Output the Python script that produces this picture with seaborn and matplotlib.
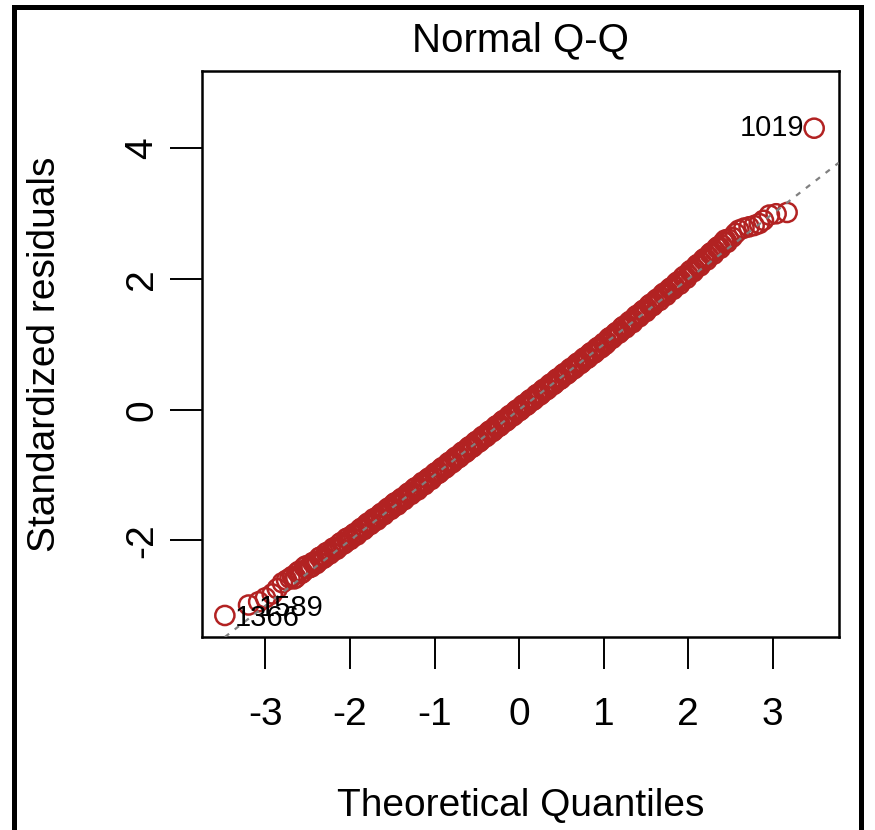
import matplotlib
matplotlib.use("Agg")
import matplotlib.pyplot as plt
import matplotlib.patches as mpatches
import seaborn as sns
import pandas as pd

# ---- data ----
lower_x = [-3.48, -3.20, -3.08, -3.00, -2.92, -2.86, -2.80, -2.75, -2.71]
lower_y = [-3.15, -2.99, -2.94, -2.88, -2.82, -2.74, -2.65, -2.61, -2.58]

mid_x = [-2.68, -2.64, -2.60, -2.56, -2.52, -2.48, -2.44, -2.40, -2.36, -2.32,
         -2.28, -2.24, -2.20, -2.16, -2.12, -2.08, -2.04, -2.00, -1.96, -1.92,
         -1.88, -1.84, -1.80, -1.76, -1.72, -1.68, -1.64, -1.60, -1.56, -1.52,
         -1.48, -1.44, -1.40, -1.36, -1.32, -1.28, -1.24, -1.20, -1.16, -1.12,
         -1.08, -1.04, -1.00, -0.96, -0.92, -0.88, -0.84, -0.80, -0.76, -0.72,
         -0.68, -0.64, -0.60, -0.56, -0.52, -0.48, -0.44, -0.40, -0.36, -0.32,
         -0.28, -0.24, -0.20, -0.16, -0.12, -0.08, -0.04, 0.00, 0.04, 0.08,
         0.12, 0.16, 0.20, 0.24, 0.28, 0.32, 0.36, 0.40, 0.44, 0.48,
         0.52, 0.56, 0.60, 0.64, 0.68, 0.72, 0.76, 0.80, 0.84, 0.88,
         0.92, 0.96, 1.00, 1.04, 1.08, 1.12, 1.16, 1.20, 1.24, 1.28,
         1.32, 1.36, 1.40, 1.44, 1.48, 1.52, 1.56, 1.60, 1.64, 1.68,
         1.72, 1.76, 1.80, 1.84, 1.88, 1.92, 1.96, 2.00, 2.04, 2.08,
         2.12, 2.16, 2.20, 2.24, 2.28, 2.32, 2.36, 2.40, 2.44, 2.48]
mid_y = [-2.55, -2.57, -2.47, -2.49, -2.39, -2.41, -2.34, -2.36, -2.26, -2.28,
         -2.19, -2.21, -2.12, -2.14, -2.05, -2.06, -1.97, -1.99, -1.91, -1.92,
         -1.83, -1.84, -1.75, -1.76, -1.67, -1.69, -1.60, -1.61, -1.52, -1.53,
         -1.44, -1.46, -1.37, -1.38, -1.29, -1.30, -1.21, -1.23, -1.14, -1.15,
         -1.06, -1.07, -0.98, -0.98, -0.90, -0.90, -0.82, -0.82, -0.74, -0.74,
         -0.66, -0.66, -0.58, -0.58, -0.50, -0.50, -0.42, -0.42, -0.34, -0.34,
         -0.26, -0.26, -0.18, -0.18, -0.10, -0.10, -0.02, -0.02, 0.06, 0.06,
         0.14, 0.14, 0.22, 0.22, 0.30, 0.30, 0.38, 0.38, 0.46, 0.46,
         0.54, 0.54, 0.62, 0.62, 0.70, 0.70, 0.78, 0.78, 0.86, 0.86,
         0.94, 0.94, 1.02, 1.03, 1.11, 1.12, 1.19, 1.20, 1.28, 1.29,
         1.36, 1.37, 1.45, 1.46, 1.53, 1.54, 1.62, 1.63, 1.70, 1.72,
         1.79, 1.80, 1.87, 1.89, 1.96, 1.97, 2.05, 2.06, 2.14, 2.15,
         2.23, 2.25, 2.32, 2.34, 2.41, 2.43, 2.50, 2.52, 2.60, 2.61]

mid2_x = [-2.66, -2.62, -2.58, -2.54, -2.50, -2.46, -2.42, -2.38, -2.34, -2.30,
          -2.26, -2.22, -2.18, -2.14, -2.10, -2.06, -2.02, -1.98, -1.94, -1.90,
          -1.86, -1.82, -1.78, -1.74, -1.70, -1.66, -1.62, -1.58, -1.54, -1.50,
          -1.46, -1.42, -1.38, -1.34, -1.30, -1.26, -1.22, -1.18, -1.14, -1.10,
          -1.06, -1.02, -0.98, -0.94, -0.90, -0.86, -0.82, -0.78, -0.74, -0.70,
          -0.66, -0.62, -0.58, -0.54, -0.50, -0.46, -0.42, -0.38, -0.34, -0.30,
          -0.26, -0.22, -0.18, -0.14, -0.10, -0.06, -0.02, 0.02, 0.06, 0.10,
          0.14, 0.18, 0.22, 0.26, 0.30, 0.34, 0.38, 0.42, 0.46, 0.50,
          0.54, 0.58, 0.62, 0.66, 0.70, 0.74, 0.78, 0.82, 0.86, 0.90,
          0.94, 0.98, 1.02, 1.06, 1.10, 1.14, 1.18, 1.22, 1.26, 1.30,
          1.34, 1.38, 1.42, 1.46, 1.50, 1.54, 1.58, 1.62, 1.66, 1.70,
          1.74, 1.78, 1.82, 1.86, 1.90, 1.94, 1.98, 2.02, 2.06, 2.10,
          2.14, 2.18, 2.22, 2.26, 2.30, 2.34, 2.38, 2.42, 2.46]
mid2_y = [-2.59, -2.49, -2.51, -2.41, -2.43, -2.41, -2.33, -2.33, -2.25, -2.26,
          -2.18, -2.18, -2.11, -2.11, -2.03, -2.04, -1.96, -1.96, -1.89, -1.88,
          -1.81, -1.81, -1.73, -1.73, -1.66, -1.65, -1.58, -1.57, -1.50, -1.50,
          -1.42, -1.42, -1.35, -1.34, -1.27, -1.27, -1.19, -1.19, -1.11, -1.11,
          -1.04, -1.03, -0.96, -0.96, -0.88, -0.88, -0.80, -0.80, -0.72, -0.72,
          -0.64, -0.64, -0.56, -0.56, -0.48, -0.48, -0.40, -0.40, -0.32, -0.32,
          -0.24, -0.24, -0.16, -0.16, -0.08, -0.08, 0.00, 0.00, 0.08, 0.08,
          0.16, 0.16, 0.24, 0.24, 0.32, 0.32, 0.40, 0.40, 0.48, 0.48,
          0.56, 0.56, 0.64, 0.64, 0.72, 0.72, 0.80, 0.80, 0.88, 0.88,
          0.96, 0.96, 1.00, 1.09, 1.09, 1.17, 1.17, 1.26, 1.25, 1.34,
          1.33, 1.43, 1.42, 1.51, 1.50, 1.60, 1.59, 1.68, 1.67, 1.77,
          1.75, 1.85, 1.84, 1.94, 1.92, 2.03, 2.01, 2.12, 2.11, 2.21,
          2.20, 2.30, 2.29, 2.39, 2.38, 2.48, 2.47, 2.57, 2.56]

upper_x = [2.52, 2.56, 2.60, 2.66, 2.72, 2.78, 2.84, 2.89, 2.96, 3.04, 3.17, 3.49]
upper_y = [2.64, 2.70, 2.75, 2.78, 2.80, 2.82, 2.85, 2.90, 2.98, 3.00, 3.02, 4.31]

id_labels = ["1366", "1589", "1019"]
id_x = [-3.48, -3.20, 3.49]
id_y = [-3.15, -2.99, 4.31]

qq_intercept = 0.0
qq_slope = 1.0

x_ticks = [-3, -2, -1, 0, 1, 2, 3]
y_ticks = [-2, 0, 2, 4]

title = "Normal Q-Q"
x_label = "Theoretical Quantiles"
y_label = "Standardized residuals"

df = pd.DataFrame({
    "theoretical": lower_x + mid_x + mid2_x + upper_x,
    "residual": lower_y + mid_y + mid2_y + upper_y,
})

# ---- drawing ----
sns.set_style("white")
plt.rcParams["font.family"] = ["Liberation Sans", "DejaVu Sans"]
plt.rcParams["text.color"] = "black"
plt.rcParams["axes.labelcolor"] = "black"
plt.rcParams["xtick.color"] = "black"
plt.rcParams["ytick.color"] = "black"

fig = plt.figure(figsize=(8.75, 8.3), dpi=100)
ax = fig.add_axes([0.2309, 0.2325, 0.7276, 0.6823])

red = "#B22222"
sns.scatterplot(data=df, x="theoretical", y="residual", ax=ax,
                marker="o", s=190, facecolor="none", edgecolor=red,
                linewidth=1.8, zorder=3)

ax.axline((0, qq_intercept), slope=qq_slope, color="#808080", lw=1.6,
          linestyle=(0, (2.4, 3.2)), zorder=4)

ax.set_xlim(-3.75, 3.78)
ax.set_ylim(-3.48, 5.19)
ax.set_xticks(x_ticks)
ax.set_xticklabels([str(t) for t in x_ticks])
ax.set_yticks(y_ticks)
ax.set_yticklabels([str(t) for t in y_ticks])

for sp in ax.spines.values():
    sp.set_visible(True)
    sp.set_color("black")
    sp.set_linewidth(1.8)

ax.tick_params(axis="both", direction="out", length=23, width=1.4,
               colors="black", labelcolor="black", labelsize=28,
               bottom=True, left=True)
ax.tick_params(axis="x", pad=20)
ax.tick_params(axis="y", pad=7)
for lab in ax.get_yticklabels():
    lab.set_rotation(90)
    lab.set_va("center")

ax.set_xlabel(x_label, fontsize=28, labelpad=40, color="black")
ax.set_ylabel(y_label, fontsize=28, labelpad=44, color="black")
ax.set_title(title, fontsize=29, pad=14, color="black")

for lab, xv, yv in zip(id_labels, id_x, id_y):
    if xv < 0:
        ax.annotate(lab, (xv, yv), xytext=(7, -2), textcoords="offset points",
                    ha="left", va="center", fontsize=21, color="black", zorder=5)
    else:
        ax.annotate(lab, (xv, yv), xytext=(-7, 0), textcoords="offset points",
                    ha="right", va="center", fontsize=21, color="black", zorder=5)

frame = mpatches.Rectangle((14 / 875, -0.02), (861 - 14) / 875, 1 - 7 / 830 + 0.02,
                           transform=fig.transFigure, fill=False,
                           edgecolor="black", linewidth=3.6)
fig.patches.append(frame)

fig.savefig("out.png", dpi=100)
